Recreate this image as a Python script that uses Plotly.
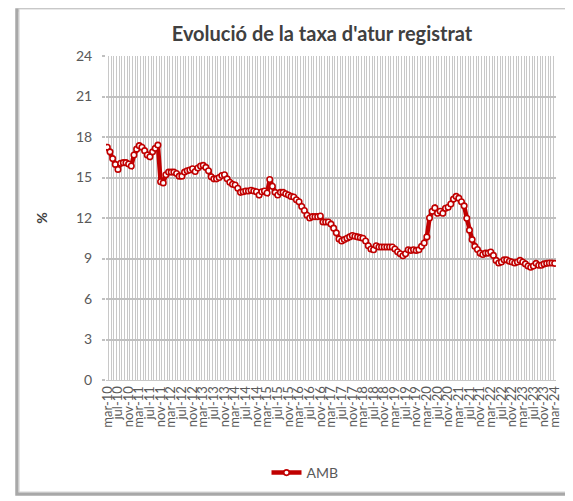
import plotly.graph_objects as go

months = ["gen", "feb", "mar", "abr", "mai", "jun", "jul", "ago", "set", "oct", "nov", "des"]
# monthly labels from mar-10 to mar-24
periods = []
for yr in range(10, 25):
    for mi, m in enumerate(months):
        if (yr == 10 and mi < 2) or (yr == 24 and mi > 2):
            continue
        periods.append(f"{m}-{yr:02d}")

amb = [
    17.24, 16.9, 16.4, 15.97, 15.6, 16.05, 16.1, 16.1, 16.0, 15.85,
    16.67, 17.1, 17.36, 17.24, 16.99, 16.67, 16.54, 16.9, 17.16, 17.4,
    14.69, 14.6, 15.2, 15.4, 15.4, 15.4, 15.3, 15.1, 15.1, 15.4,
    15.5, 15.55, 15.65, 15.45, 15.7, 15.85, 15.9, 15.75, 15.5, 15.05,
    14.9, 14.9, 15.0, 15.15, 15.2, 14.9, 14.65, 14.5, 14.45, 14.2,
    13.9, 13.95, 14.0, 14.0, 14.05, 14.0, 13.95, 13.7, 13.95, 14.0,
    13.85, 14.85, 14.35, 13.9, 13.7, 13.9, 13.9, 13.8, 13.7, 13.6,
    13.55, 13.35, 13.2, 12.85, 12.55, 12.2, 12.0, 12.1, 12.1, 12.1,
    12.15, 11.7, 11.7, 11.7, 11.55, 11.25, 10.9, 10.45, 10.3, 10.4,
    10.5, 10.6, 10.7, 10.65, 10.6, 10.55, 10.5, 10.3, 9.95, 9.7,
    9.65, 9.95, 9.85, 9.85, 9.85, 9.85, 9.85, 9.85, 9.7, 9.5,
    9.35, 9.2, 9.35, 9.65, 9.6, 9.65, 9.6, 9.65, 9.9, 10.15,
    10.6, 12.0, 12.5, 12.75, 12.35, 12.5, 12.35, 12.72, 12.8, 13.04,
    13.4, 13.6, 13.47, 13.2, 12.9, 11.98, 11.1, 10.4, 9.9, 9.67,
    9.4, 9.3, 9.4, 9.4, 9.48, 9.23, 8.86, 8.67, 8.74, 8.9,
    8.9, 8.8, 8.74, 8.67, 8.74, 8.86, 8.74, 8.6, 8.44, 8.35,
    8.44, 8.64, 8.5, 8.5, 8.6, 8.64, 8.67, 8.67, 8.64,
]

y_ticks = [0, 3, 6, 9, 12, 15, 18, 21, 24]
n = min(len(periods), len(amb))
idx = list(range(n))
tick_idx = [i for i in idx if i % 4 == 0]
tick_txt = [periods[i] for i in tick_idx]

RED = "#c00000"
FONT = "Lato"

# page body has an 8px margin; lay out in window pixels, then offset
OFF = 8
FW, FH = 573 - OFF, 501 - OFF

fig = go.Figure()
fig.add_trace(go.Scatter(
    x=idx, y=amb[:n], name="AMB", mode="lines+markers",
    line=dict(color=RED, width=4.5),
    marker=dict(symbol="circle", size=5.5, color="white", line=dict(color=RED, width=1.6)),
    customdata=periods[:n], hovertemplate="%{customdata}: %{y}<extra></extra>",
))

# plot area in window pixels
L, R, T, B = 106, 556, 56, 380
W, H = R - L, B - T
def px(x):
    return (x - L) / W
def py(y):
    return (B - y) / H

shapes = [
    dict(type="rect", xref="paper", yref="paper", x0=px(17), x1=px(620), y0=py(494), y1=py(10),
         line=dict(color="#a8a8a8", width=3.5), fillcolor="rgba(0,0,0,0)", layer="below"),
    dict(type="rect", xref="paper", yref="paper", x0=px(19), x1=px(620), y0=py(492), y1=py(9),
         line=dict(color="#d4d4d4", width=1.2), fillcolor="white", layer="below"),
]

fig.update_layout(
    width=FW, height=FH,
    margin=dict(l=L - OFF, r=573 - R, t=T - OFF, b=501 - B, autoexpand=False),
    paper_bgcolor="white", plot_bgcolor="white",
    font=dict(family=FONT, color="#595959", size=13),
    title=dict(text="<b>Evolució de la taxa d'atur registrat</b>", x=px(322), xref="paper",
               xanchor="center", y=1 - (34 - OFF) / FH, yref="container", yanchor="middle",
               font=dict(size=20, color="#404040", family=FONT)),
    showlegend=True,
    legend=dict(orientation="h", x=px(305), xanchor="center", y=py(473), yanchor="middle",
                font=dict(size=14, color="#595959"), itemwidth=30),
    shapes=shapes,
    xaxis=dict(
        range=[-0.5, n - 0.5], tickmode="array", tickvals=tick_idx, ticktext=tick_txt,
        tickangle=-90, tickfont=dict(size=13, color="#595959"), showgrid=False,
        showline=True, linecolor="#c8c8c8", linewidth=1, zeroline=False, ticks="",
        minor=dict(tick0=-0.5, dtick=1, showgrid=True, gridcolor="#c8c8c8", gridwidth=1),
        fixedrange=True, automargin=False,
    ),
    yaxis=dict(
        range=[0, 24], tickmode="array", tickvals=y_ticks, showgrid=True,
        gridcolor="#c0c0c0", gridwidth=1.5, zeroline=False, showline=False,
        ticks="outside", ticklen=3, tickcolor="#c0c0c0", tickwidth=1.5,
        tickfont=dict(size=14, color="#595959"), ticklabelstandoff=7,
        title=dict(text="<b>%</b>", font=dict(size=14, color="#404040"), standoff=25),
        automargin=False,
    ),
)

fig.write_html("out.html")
